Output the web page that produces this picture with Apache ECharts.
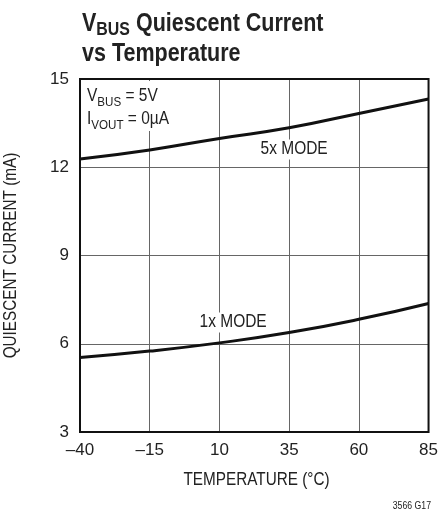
<!DOCTYPE html>
<html><head><meta charset="utf-8">
<script src="https://cdn.jsdelivr.net/npm/echarts@6/dist/echarts.min.js"></script>
<style>html,body{margin:0;padding:0;background:#fff}#c{width:441px;height:512px}</style>
</head><body><div id="c"></div>
<script>
var temps = [-40, -15, 10, 35, 60, 85];
var mode5x = [12.28, 12.59, 12.98, 13.34, 13.83, 14.32];
var mode1x = [5.53, 5.75, 6.03, 6.38, 6.83, 7.37];
var xTicks = [-40, -15, 10, 35, 60, 85];
var yTicks = [3, 6, 9, 12, 15];

var FONT = '"Liberation Sans", Arial, sans-serif';
var INK = '#222';
var SX = 0.86; // horizontal condensing of the annotation texts
function pairs(xs, ys){ return xs.map(function(x,i){return [x, ys[i]];}); }

var mctx = document.createElement('canvas').getContext('2d');
function tw(t, size, bold){
  mctx.font = (bold ? 'bold ' : '') + size + 'px "Liberation Sans"';
  return mctx.measureText(t).width;
}
// a run of text pieces placed one after the other (for subscripts)
function run(x0, pieces, extra){
  var out = [], x = x0;
  pieces.forEach(function(p){
    out.push(Object.assign({type: 'text', x: x, y: p.cy, scaleX: SX, z: 20, style: {
      text: p.t, fontFamily: FONT, fontSize: p.size, fontWeight: p.bold ? 'bold' : 'normal',
      fill: INK, align: 'left', verticalAlign: 'middle'}}, extra || {}));
    x += tw(p.t, p.size, p.bold) * SX;
  });
  return out;
}
function label(t, x, cy, size, bg){
  return {type: 'text', x: x, y: cy, scaleX: SX, z: 20, style: {
    text: t, fontFamily: FONT, fontSize: size, fill: INK, align: 'left', verticalAlign: 'middle',
    backgroundColor: bg ? '#fff' : 'transparent', padding: bg ? [1, 3, 1, 3] : 0}};
}

var graphics = []
  .concat(run(82, [
    {t: 'V', size: 25, bold: true, cy: 24},
    {t: 'BUS', size: 18.5, bold: true, cy: 29.5},
    {t: ' Quiescent Current', size: 25, bold: true, cy: 24}]))
  .concat(run(82, [{t: 'vs Temperature', size: 25, bold: true, cy: 54}]))
  .concat([{type: 'rect', z: 15, shape: {x: 81, y: 81, width: 86, height: 50}, style: {fill: '#fff'}}])
  .concat(run(87, [
    {t: 'V', size: 18, cy: 96.5},
    {t: 'BUS', size: 13.5, cy: 102},
    {t: ' = 5V', size: 18, cy: 96.5}]))
  .concat(run(87, [
    {t: 'I', size: 18, cy: 119.5},
    {t: 'VOUT', size: 13.5, cy: 125},
    {t: ' = 0\u00B5A', size: 18, cy: 119.5}]))
  .concat([
    label('5x MODE', 258, 149.5, 18, true),
    label('1x MODE', 197, 322.5, 18, true),
    {type: 'text', x: 256.5, y: 480.5, scaleX: 0.85, z: 20, style: {
      text: 'TEMPERATURE (\u00B0C)', fontFamily: FONT, fontSize: 18, fill: INK, align: 'center', verticalAlign: 'middle'}},
    {type: 'text', x: 11, y: 255.5, rotation: Math.PI / 2, scaleX: 0.85, z: 20, style: {
      text: 'QUIESCENT CURRENT (mA)', fontFamily: FONT, fontSize: 18, fill: INK, align: 'center', verticalAlign: 'middle'}},
    {type: 'text', x: 431, y: 506, scaleX: 0.87, z: 20, style: {
      text: '3566 G17', fontFamily: FONT, fontSize: 10, fill: INK, align: 'right', verticalAlign: 'middle'}}
  ]);

var chart = echarts.init(document.getElementById('c'));
chart.setOption({
  animation: false,
  backgroundColor: '#fff',
  grid: {left: 80, right: 9, top: 79, bottom: 80, show: true, borderColor: '#111', borderWidth: 2, z: 30},
  xAxis: {
    type: 'value', min: xTicks[0], max: xTicks[xTicks.length - 1], interval: xTicks[1] - xTicks[0],
    axisLine: {show: false}, axisTick: {show: false},
    splitLine: {show: true, lineStyle: {color: '#666', width: 1}},
    axisLabel: {color: INK, fontFamily: FONT, fontSize: 17, margin: 10,
      formatter: function(v){ return v < 0 ? '\u2013' + Math.abs(v) : String(v); }}
  },
  yAxis: {
    type: 'value', min: yTicks[0], max: yTicks[yTicks.length - 1], interval: yTicks[1] - yTicks[0],
    axisLine: {show: false}, axisTick: {show: false},
    splitLine: {show: true, lineStyle: {color: '#666', width: 1}},
    axisLabel: {color: INK, fontFamily: FONT, fontSize: 17, margin: 11}
  },
  series: [
    {type: 'line', data: pairs(temps, mode5x), smooth: true, symbol: 'none', z: 5,
     lineStyle: {color: '#111', width: 3}},
    {type: 'line', data: pairs(temps, mode1x), smooth: true, symbol: 'none', z: 5,
     lineStyle: {color: '#111', width: 3}}
  ],
  graphic: graphics
});
</script></body></html>
